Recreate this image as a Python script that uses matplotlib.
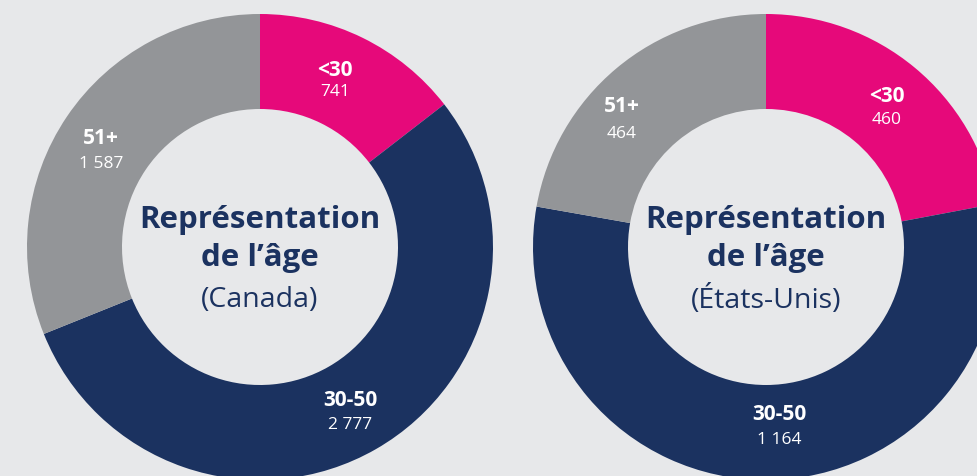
import matplotlib
matplotlib.use("Agg")
import matplotlib.pyplot as plt

# Data
categories = ["<30", "30-50", "51+"]
canada_values = [741, 2777, 1587]
us_values = [460, 1164, 464]
canada_labels = ["741", "2 777", "1 587"]
us_labels = ["460", "1 164", "464"]
titles = ["(Canada)", "(États-Unis)"]

colors = ["#E6097A", "#1B3260", "#939598"]
bg = "#E7E8EA"
navy = "#1B3260"

W, H = 977, 477
fig = plt.figure(figsize=(W / 100, H / 100), dpi=100, facecolor=bg)
ax = fig.add_axes([0, 0, 1, 1])
ax.set_facecolor(bg)

R = 233
ring = 95
FONT = "Open Sans"

def Y(y):
    return H - y

def donut(cx, cy, values, vlabels, subtitle, label_pos):
    ax.pie(values, colors=colors, startangle=90, counterclock=False,
           radius=R, center=(cx, Y(cy)),
           wedgeprops=dict(width=ring, edgecolor="none", linewidth=0),
           frame=True)
    ax.text(cx, Y(cy - 28), "Représentation", ha="center", va="center",
            fontsize=22.5, fontweight="bold", color=navy, family=FONT)
    ax.text(cx, Y(cy + 10), "de l\u2019âge", ha="center", va="center",
            fontsize=22.5, fontweight="bold", color=navy, family=FONT)
    ax.text(cx, Y(cy + 52), subtitle, ha="center", va="center",
            fontsize=20.5, color=navy, family=FONT)
    for cat, vl, (lx, ly1, ly2) in zip(categories, vlabels, label_pos):
        ax.text(lx, Y(ly1), cat, ha="center", va="center", fontsize=15,
                fontweight="bold", color="white", family=FONT)
        ax.text(lx, Y(ly2), vl, ha="center", va="center", fontsize=12.5,
                fontweight="normal", color="white", family=FONT)

donut(260, 248, canada_values, canada_labels, titles[0],
      [(335, 70, 92), (350, 401, 425), (101, 138, 164)])
donut(766, 248, us_values, us_labels, titles[1],
      [(887, 97, 120), (779, 415, 440), (622, 107, 134)])

ax.set_xlim(0, W)
ax.set_ylim(0, H)
ax.set_aspect("equal")
ax.axis("off")
fig.savefig("out.png", dpi=100, facecolor=bg)
